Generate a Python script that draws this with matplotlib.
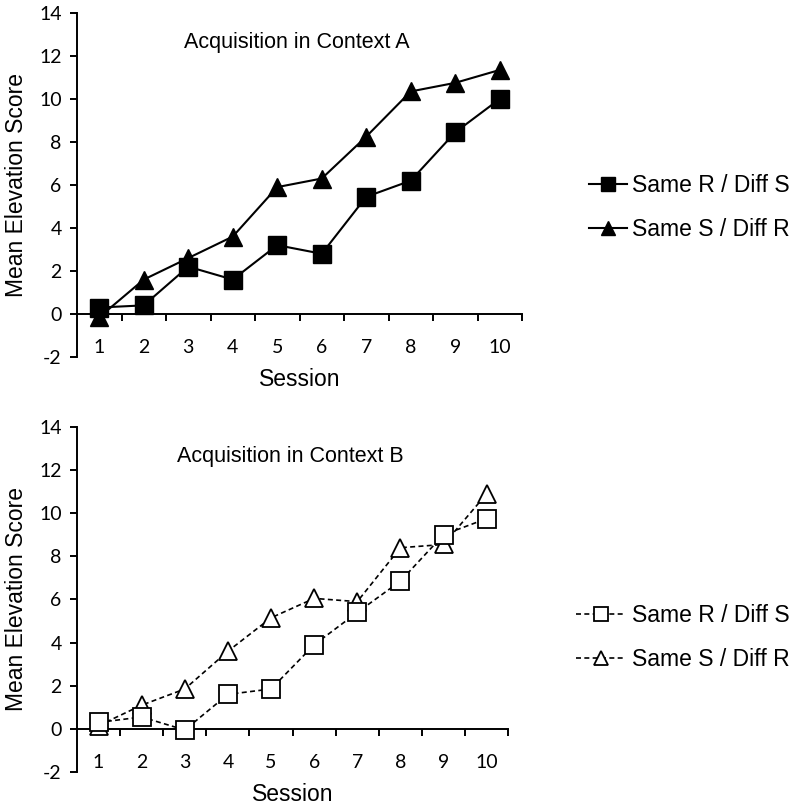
import matplotlib
matplotlib.use("Agg")
import matplotlib.pyplot as plt
import numpy as np

sessions = [1, 2, 3, 4, 5, 6, 7, 8, 9, 10]
a_same_r = [0.3, 0.4, 2.2, 1.6, 3.2, 2.8, 5.45, 6.2, 8.45, 10.0]
a_same_s = [-0.15, 1.6, 2.6, 3.6, 5.9, 6.3, 8.25, 10.35, 10.75, 11.35]
b_same_r = [0.3, 0.55, -0.05, 1.6, 1.85, 3.9, 5.4, 6.85, 9.0, 9.75]
b_same_s = [0.15, 1.1, 1.85, 3.6, 5.15, 6.05, 5.9, 8.4, 8.55, 10.9]
yticks = [-2, 0, 2, 4, 6, 8, 10, 12, 14]
labels = ["Same R / Diff S", "Same S / Diff R"]
titles = ["Acquisition in Context A", "Acquisition in Context B"]

ARIAL = "Liberation Sans"
TICKF = "Lato"

fig = plt.figure(figsize=(8, 8.1), dpi=100)
ax1 = fig.add_axes([0.09625, 0.5593, 0.55625, 0.4247])
ax2 = fig.add_axes([0.09625, 0.0469, 0.539, 0.426])

def style(ax, title, legend_pos, hl):
    ax.set_xlim(0.5, 10.5)
    ax.set_ylim(-2, 14)
    for s in ["top", "right"]:
        ax.spines[s].set_visible(False)
    ax.spines["bottom"].set_position(("data", 0))
    for s in ["left", "bottom"]:
        ax.spines[s].set_linewidth(1.4)
    ax.set_yticks(yticks)
    ax.set_yticklabels([str(v) for v in yticks], fontfamily=TICKF, fontsize=14)
    ax.set_xticks(sessions)
    ax.set_xticklabels([str(v) for v in sessions], fontfamily=TICKF, fontsize=14)
    ax.set_xticks(np.arange(1.5, 11, 1.0), minor=True)
    ax.tick_params(axis="x", which="major", length=0, pad=18)
    ax.tick_params(axis="x", which="minor", length=5, width=1.4, direction="out")
    ax.tick_params(axis="y", which="major", length=5, width=1.4, direction="out", pad=6)
    ax.set_ylabel("Mean Elevation Score", fontfamily=ARIAL, fontsize=16.5, labelpad=8)
    ax.set_xlabel("Session", fontfamily=ARIAL, fontsize=16.5, labelpad=9)
    ax.text(0.495, 0.915, title, transform=ax.transAxes, ha="center", va="center",
            fontfamily=ARIAL, fontsize=15.5)
    leg = ax.legend(loc="center left", bbox_to_anchor=legend_pos,
                    bbox_transform=fig.transFigure, frameon=False,
                    prop={"family": ARIAL, "size": 16.5}, handlelength=hl,
                    handletextpad=0.25, labelspacing=0.95, borderaxespad=0,
                    borderpad=0, markerscale=0.75)
    return leg

ax1.plot(sessions, a_same_r, color="black", lw=1.5, marker="s", ms=12.5,
         mfc="black", mec="black", label=labels[0])
ax1.plot(sessions, a_same_s, color="black", lw=1.5, marker="^", ms=13,
         mfc="black", mec="black", label=labels[1])
style(ax1, titles[0], (0.736, 0.7438), 1.65)

ax2.plot(sessions, b_same_r, color="black", lw=1.2, ls=(0, (3, 2)), marker="s", ms=13,
         mfc="white", mec="black", mew=1.3, label=labels[0], zorder=3)
ax2.plot(sessions, b_same_s, color="black", lw=1.2, ls=(0, (3, 2)), marker="^", ms=13,
         mfc="white", mec="black", mew=1.3, label=labels[1], zorder=2)
style(ax2, titles[1], (0.72, 0.213), 2.2)

fig.savefig("out.png", dpi=100)
